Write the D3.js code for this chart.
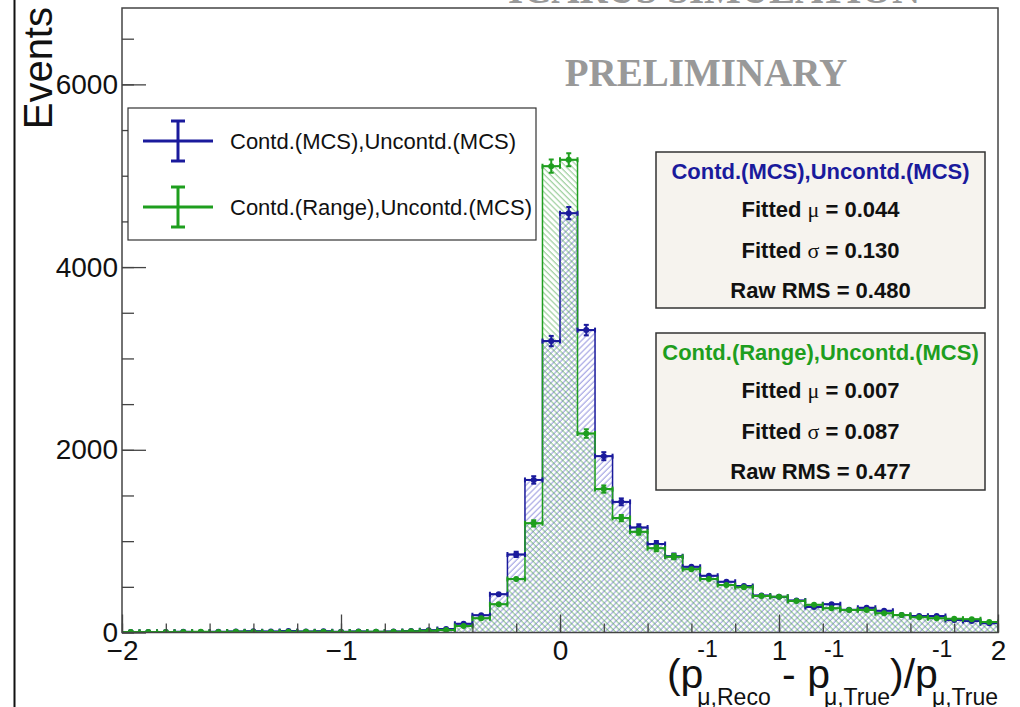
<!DOCTYPE html>
<html><head><meta charset="utf-8">
<script src="https://cdn.jsdelivr.net/npm/d3@7"></script>
<style>body{margin:0;background:#fff;} svg{display:block;}</style>
</head><body>
<script>
// ---------------- data ----------------
const binLow = -2, binHigh = 2, binCount = 50;
const blueCounts = [5, 6, 5, 8, 6, 9, 12, 14, 12, 16, 12, 14, 8, 10, 8, 10, 16, 25, 38, 95,
  190, 420, 855, 1670, 3190, 4590, 3310, 1930, 1430, 1150, 970, 835, 720, 622, 556, 509, 405, 392, 350, 280,
  308, 248, 271, 239, 192, 181, 181, 137, 126, 100];
const greenCounts = [6, 5, 6, 5, 7, 6, 8, 7, 6, 8, 7, 9, 6, 8, 7, 9, 14, 20, 28, 72,
  155, 310, 585, 1195, 5105, 5175, 2178, 1570, 1252, 1103, 921, 830, 692, 586, 520, 495, 400, 390, 345, 305,
  265, 246, 246, 210, 192, 166, 155, 151, 144, 115];
const xMajorTicks = [-2, -1, 0, 1, 2];
const yMajorTicks = [0, 2000, 4000, 6000];
const seriesNames = ["Contd.(MCS),Uncontd.(MCS)", "Contd.(Range),Uncontd.(MCS)"];
const fitMu = ["0.044", "0.007"];
const fitSigma = ["0.130", "0.087"];
const rawRMS = ["0.480", "0.477"];
const yMax = 6836;

// ---------------- setup ----------------
const W = 1020, H = 707;
const sans = "'Liberation Sans', Arial, Helvetica, sans-serif";
const serif = "'Liberation Serif', 'Times New Roman', serif";
const blue = "#1a1a9c", green = "#1e9e1e";
const svg = d3.select("body").append("svg").attr("width", W).attr("height", H)
  .style("font-family", sans);
svg.append("rect").attr("width", W).attr("height", H).attr("fill", "#fff");

const x = d3.scaleLinear().domain([binLow, binHigh]).range([122, 998]);
const y = d3.scaleLinear().domain([0, yMax]).range([632.5, 8]);
const bw = (binHigh - binLow) / binCount;
const toBins = arr => arr.map((v, i) => ({x0: binLow + i * bw, x1: binLow + (i + 1) * bw, v}));
const blueBins = toBins(blueCounts), greenBins = toBins(greenCounts);

const defs = svg.append("defs");
function hatch(id, color, angle) {
  const p = defs.append("pattern").attr("id", id).attr("patternUnits", "userSpaceOnUse")
    .attr("width", 4.2).attr("height", 10).attr("patternTransform", `rotate(${angle})`);
  p.append("line").attr("x1", 1).attr("x2", 1).attr("y1", 0).attr("y2", 10)
    .attr("stroke", color).attr("stroke-width", 1.1);
}
hatch("hBlue", "rgba(80,80,200,0.55)", 45);
hatch("hGreen", "rgba(60,160,60,0.55)", -45);
defs.append("clipPath").attr("id", "frameClip").append("rect")
  .attr("x", x(binLow)).attr("y", y(yMax)).attr("width", x(binHigh) - x(binLow)).attr("height", y(0) - y(yMax));

// left page border line
svg.append("line").attr("x1", 14.5).attr("x2", 14.5).attr("y1", 0).attr("y2", H)
  .attr("stroke", "#111").attr("stroke-width", 2);

// cut-off title at top
svg.append("text").attr("x", 714).attr("y", 3).attr("text-anchor", "middle")
  .attr("font-family", serif).attr("font-weight", "bold").attr("font-size", 39)
  .attr("fill", "#999").text("ICARUS SIMULATION");

// ---------------- histograms ----------------
function stepPath(bins, close) {
  let p = `M${x(binLow)},${y(0)}`;
  bins.forEach(d => { p += `L${x(d.x0)},${y(d.v)}L${x(d.x1)},${y(d.v)}`; });
  p += `L${x(binHigh)},${y(0)}`;
  return close ? p + "Z" : p;
}
const plot = svg.append("g").attr("clip-path", "url(#frameClip)");
plot.append("path").attr("d", stepPath(blueBins, true)).attr("fill", "url(#hBlue)");
plot.append("path").attr("d", stepPath(greenBins, true)).attr("fill", "url(#hGreen)");
plot.append("path").attr("d", stepPath(blueBins, false)).attr("fill", "none").attr("stroke", blue).attr("stroke-width", 1.5);
plot.append("path").attr("d", stepPath(greenBins, false)).attr("fill", "none").attr("stroke", green).attr("stroke-width", 1.5);

function errorBars(bins, color) {
  const g = plot.append("g").attr("stroke", color).attr("fill", color).attr("stroke-width", 2);
  bins.forEach(d => {
    const cx = x((d.x0 + d.x1) / 2), cy = y(d.v), e = Math.sqrt(d.v);
    const yt = y(d.v + e), yb = y(d.v - e);
    g.append("line").attr("x1", x(d.x0)).attr("x2", x(d.x1)).attr("y1", cy).attr("y2", cy);
    g.append("line").attr("x1", cx).attr("x2", cx).attr("y1", yt).attr("y2", yb);
    g.append("line").attr("x1", x(d.x0)).attr("x2", x(d.x0)).attr("y1", cy - 2.5).attr("y2", cy + 2.5);
    g.append("line").attr("x1", x(d.x1)).attr("x2", x(d.x1)).attr("y1", cy - 2.5).attr("y2", cy + 2.5);
    if (yb - yt > 5) {
      g.append("line").attr("x1", cx - 2.5).attr("x2", cx + 2.5).attr("y1", yt).attr("y2", yt);
      g.append("line").attr("x1", cx - 2.5).attr("x2", cx + 2.5).attr("y1", yb).attr("y2", yb);
    }
    g.append("circle").attr("cx", cx).attr("cy", cy).attr("r", 3).attr("stroke", "none");
  });
}
errorBars(blueBins, blue);
errorBars(greenBins, green);

// ---------------- frame and axes ----------------
const axisColor = "#444";
svg.append("rect").attr("x", x(binLow)).attr("y", y(yMax)).attr("width", x(binHigh) - x(binLow))
  .attr("height", y(0) - y(yMax)).attr("fill", "none").attr("stroke", axisColor).attr("stroke-width", 1.5);

const xMinor = d3.range(0, 21).map(i => binLow + i * 0.2);
const gxMinor = svg.append("g").attr("transform", `translate(0,${y(0)})`)
  .call(d3.axisBottom(x).tickValues(xMinor).tickSize(-9).tickSizeOuter(0).tickFormat(""));
const gx = svg.append("g").attr("transform", `translate(0,${y(0)})`)
  .call(d3.axisBottom(x).tickValues(xMajorTicks).tickSize(-18).tickSizeOuter(0).tickPadding(8).tickFormat(d3.format("d")));
const yMinor = d3.range(0, yMax, 500);
const gyMinor = svg.append("g").attr("transform", `translate(${x(binLow)},0)`)
  .call(d3.axisLeft(y).tickValues(yMinor).tickSize(-12).tickSizeOuter(0).tickFormat(""));
const gy = svg.append("g").attr("transform", `translate(${x(binLow)},0)`)
  .call(d3.axisLeft(y).tickValues(yMajorTicks).tickSize(-24).tickSizeOuter(0).tickPadding(4).tickFormat(d3.format("d")));
[gxMinor, gx, gyMinor, gy].forEach(g => {
  g.select(".domain").remove();
  g.selectAll("line").attr("stroke", axisColor).attr("stroke-width", 1.3);
  g.selectAll("text").attr("font-family", sans).attr("font-size", 28).attr("fill", "#111");
});

// y title
svg.append("text").attr("transform", "translate(52,7) rotate(-90)").attr("text-anchor", "end")
  .attr("font-size", 40).attr("fill", "#111").text("Events");

// x title (TLatex-like), one text element with positioned tspans
(function () {
  const base = 688, supY = 657, subY = 705, big = 41, small = 23;
  const measure = (txt, size) => {
    const t = svg.append("text").attr("font-size", size).text(txt);
    const w = t.node().getComputedTextLength(); t.remove(); return w;
  };
  const nb = "\u00a0";
  const parts = [["(p", "-1", "\u03bc,Reco"], [nb + "-" + nb + "p", "-1", "\u03bc,True"], [")/p", "-1", "\u03bc,True"]];
  const items = [];
  let cx = 0;
  parts.forEach(([b, sup, sub]) => {
    items.push({t: b, x: cx, y: base, s: big});
    cx += measure(b, big) - 6;
    items.push({t: sup, x: cx, y: supY, s: small});
    items.push({t: sub, x: cx, y: subY, s: small});
    cx += Math.max(measure(sup, small), measure(sub, small));
  });
  const off = 998 - cx;
  const t = svg.append("text").attr("fill", "#111");
  items.forEach(it => t.append("tspan").attr("x", it.x + off).attr("y", it.y).attr("font-size", it.s).text(it.t));
})();

// PRELIMINARY
svg.append("text").attr("x", 706).attr("y", 86).attr("text-anchor", "middle")
  .attr("font-family", serif).attr("font-weight", "bold").attr("font-size", 39)
  .attr("fill", "#999").text("PRELIMINARY");

// ---------------- legend ----------------
const leg = svg.append("g");
leg.append("rect").attr("x", 128).attr("y", 108).attr("width", 408).attr("height", 132)
  .attr("fill", "#fff").attr("stroke", "#333").attr("stroke-width", 1.2);
[blue, green].forEach((c, i) => {
  const cy = 141 + i * 66;
  const g = leg.append("g").attr("stroke", c).attr("stroke-width", 3);
  g.append("line").attr("x1", 143).attr("x2", 213).attr("y1", cy).attr("y2", cy);
  g.append("line").attr("x1", 178).attr("x2", 178).attr("y1", cy - 20).attr("y2", cy + 20);
  g.append("line").attr("x1", 171).attr("x2", 185).attr("y1", cy - 20).attr("y2", cy - 20);
  g.append("line").attr("x1", 171).attr("x2", 185).attr("y1", cy + 20).attr("y2", cy + 20);
  leg.append("text").attr("x", 230).attr("y", cy + 7.5).attr("font-size", 22).attr("fill", "#111").text(seriesNames[i]);
});

// ---------------- stats boxes ----------------
[{y0: 152, h: 156, c: blue}, {y0: 333, h: 157, c: green}].forEach((b, i) => {
  const g = svg.append("g");
  g.append("rect").attr("x", 656).attr("y", b.y0).attr("width", 329).attr("height", b.h)
    .attr("fill", "#f6f3ee").attr("stroke", "#333").attr("stroke-width", 1.5);
  const cxm = 820.5;
  g.append("text").attr("x", cxm).attr("y", b.y0 + 27).attr("text-anchor", "middle")
    .attr("font-weight", "bold").attr("font-size", 22).attr("fill", b.c).text(seriesNames[i]);
  const lines = [["Fitted ", "\u03bc", " = " + fitMu[i]], ["Fitted ", "\u03c3", " = " + fitSigma[i]], ["Raw RMS = " + rawRMS[i]]];
  lines.forEach((ln, j) => {
    const t = g.append("text").attr("x", cxm).attr("y", b.y0 + 65 + j * 40.5).attr("text-anchor", "middle")
      .attr("font-weight", "bold").attr("font-size", 22).attr("fill", "#111");
    ln.forEach((s, k) => t.append("tspan").attr("font-weight", k === 1 ? "normal" : "bold")
      .attr("font-family", k === 1 ? serif : sans).text(s));
  });
});
</script>
</body></html>
